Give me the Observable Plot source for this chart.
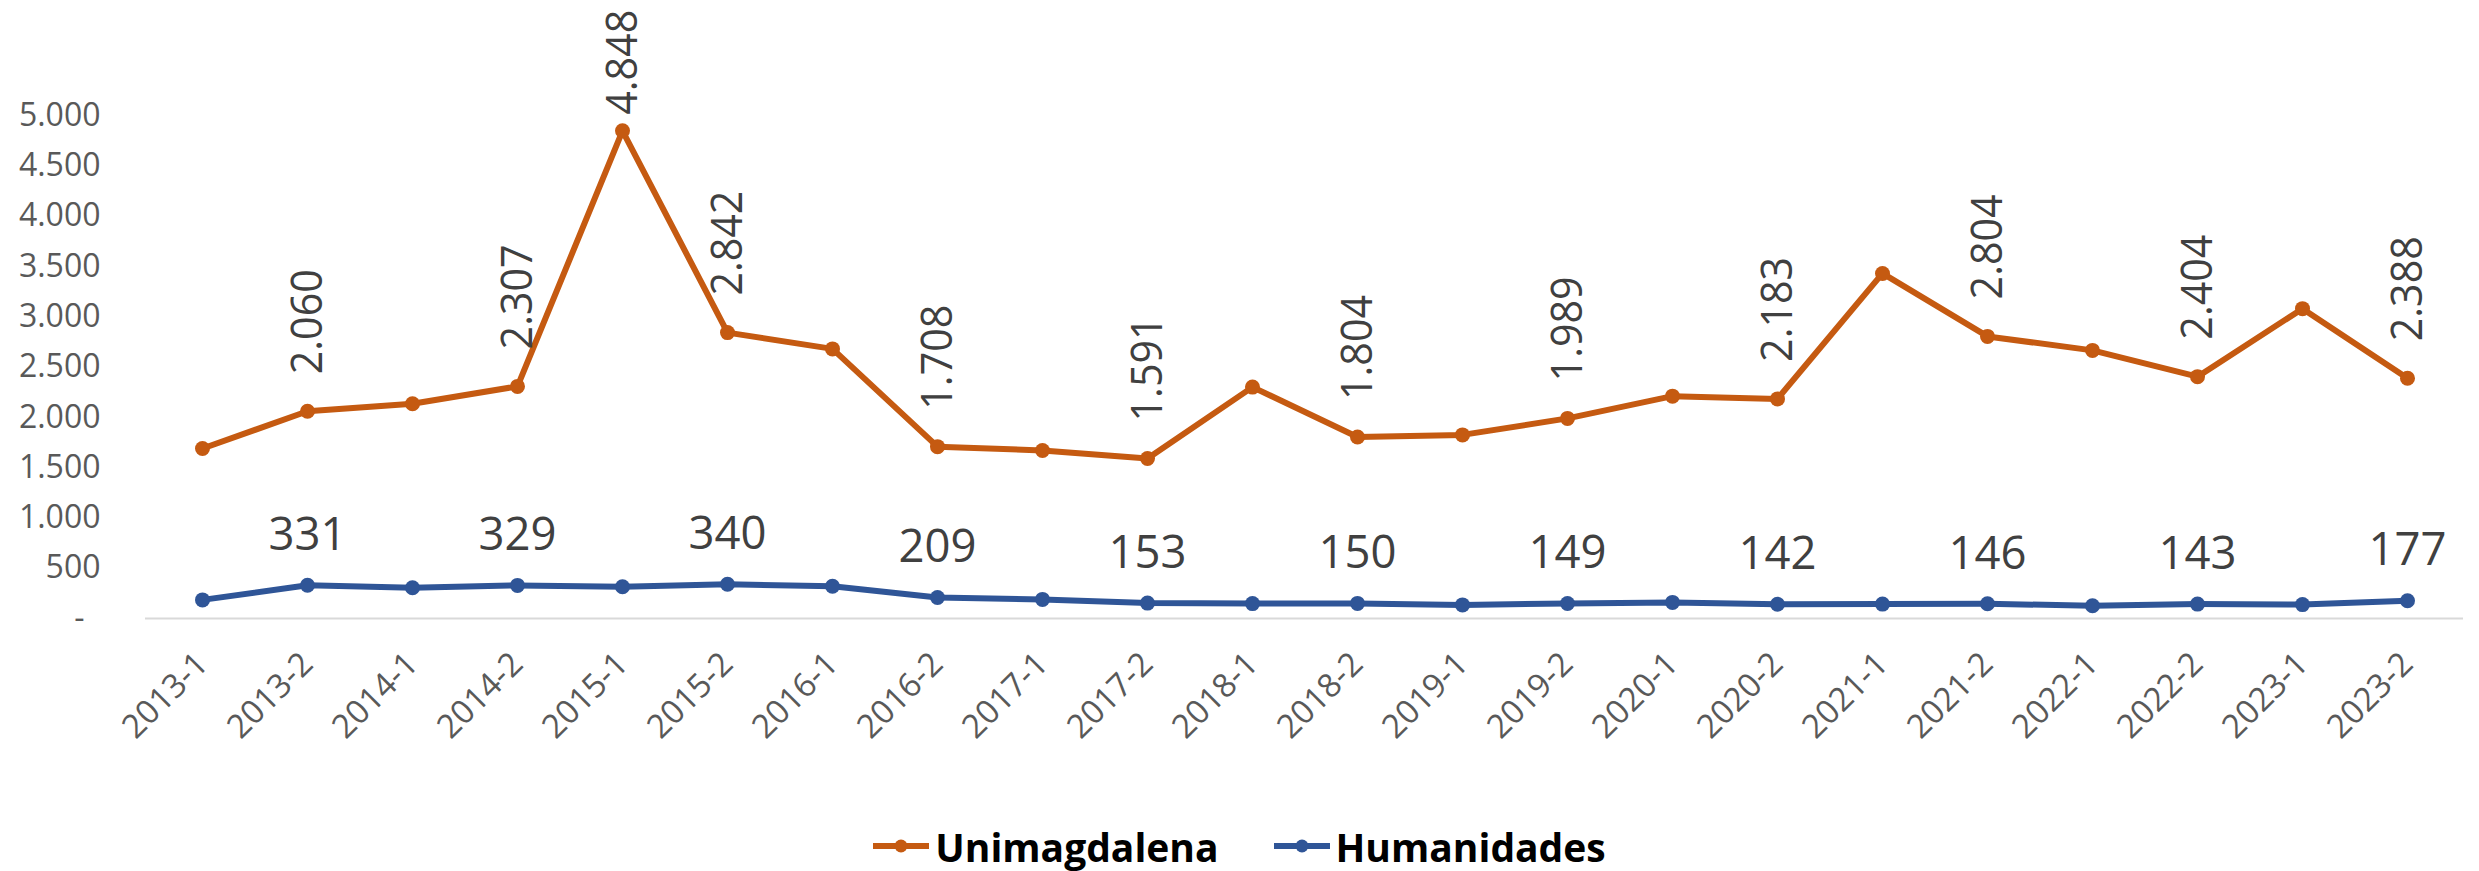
<!DOCTYPE html>
<html>
<head>
<meta charset="utf-8">
<script src="https://cdn.jsdelivr.net/npm/d3@7"></script>
<script src="https://cdn.jsdelivr.net/npm/@observablehq/plot@0.6"></script>
<style>
  html, body { margin: 0; padding: 0; background: #ffffff; width: 2479px; height: 871px; overflow: hidden; }
  #chart { height: 821px; }
  #legend { height: 50px; display: flex; justify-content: center; align-items: center;
            font-family: "Open Sans", sans-serif; font-weight: 700; font-size: 39px; color: #000; }
  .item { display: flex; align-items: center; }
  .item svg { margin-right: 6px; }
  .item + .item { margin-left: 55px; }
</style>
</head>
<body>
<div id="chart"></div>
<div id="legend"></div>
<script>
// ---- Data ----
const periods = ["2013-1","2013-2","2014-1","2014-2","2015-1","2015-2","2016-1","2016-2","2017-1","2017-2","2018-1","2018-2","2019-1","2019-2","2020-1","2020-2","2021-1","2021-2","2022-1","2022-2","2023-1","2023-2"];
const unimagdalena = [1690, 2060, 2135, 2307, 4848, 2842, 2680, 1708, 1670, 1591, 2300, 1804, 1825, 1989, 2210, 2183, 3430, 2804, 2665, 2404, 3080, 2388];
const humanidades = [185, 331, 305, 329, 315, 340, 320, 209, 190, 153, 148, 150, 135, 149, 160, 142, 143, 146, 127, 143, 138, 177];
const seriesNames = ["Unimagdalena", "Humanidades"];
const seriesColors = ["#C55A11", "#2F5597"];
const labeledUnimagdalena = ["2013-2","2014-2","2015-1","2015-2","2016-2","2017-2","2018-2","2019-2","2020-2","2021-2","2022-2","2023-2"];
const labeledHumanidades = ["2013-2","2014-2","2015-2","2016-2","2017-2","2018-2","2019-2","2020-2","2021-2","2022-2","2023-2"];
const yTicks = [0, 500, 1000, 1500, 2000, 2500, 3000, 3500, 4000, 4500, 5000];

// ---- Build table ----
const rows = [];
periods.forEach((p, i) => {
  rows.push({period: p, value: unimagdalena[i], series: seriesNames[0]});
  rows.push({period: p, value: humanidades[i], series: seriesNames[1]});
});
const locale = d3.formatLocale({decimal: ",", thousands: ".", grouping: [3], currency: ["", ""]});
const fmt = locale.format(",d");

const uniLab = rows.filter(d => d.series === seriesNames[0] && labeledUnimagdalena.includes(d.period));
const humLab = rows.filter(d => d.series === seriesNames[1] && labeledHumanidades.includes(d.period));
const yMax = d3.max(yTicks);

const plot = Plot.plot({
  width: 2479,
  height: 821,
  marginLeft: 145,
  marginRight: 16,
  marginTop: 115,
  marginBottom: 203,
  style: {fontFamily: "Open Sans", color: "#595959", background: "transparent", overflow: "visible"},
  x: {type: "point", domain: periods, padding: 0.5},
  y: {domain: [0, yMax]},
  color: {domain: seriesNames, range: seriesColors},
  marks: [
    Plot.axisY({ticks: yTicks, tickFormat: d => d === 0 ? "-\u2002" : fmt(d), tickSize: 0, tickPadding: 45, fontSize: 32, label: null}),
    Plot.axisX({tickRotate: -45, tickSize: 0, tickPadding: 40, fontSize: 33, label: null}),
    Plot.ruleY([0], {stroke: "#d9d9d9", strokeWidth: 2}),
    Plot.line(rows, {x: "period", y: "value", z: "series", stroke: "series", strokeWidth: 6}),
    Plot.dot(rows, {x: "period", y: "value", fill: "series", r: 7.5}),
    Plot.text(uniLab.filter(d => d.value < 4500), {x: "period", y: "value", text: d => fmt(d.value), rotate: -90, textAnchor: "start", lineAnchor: "middle", dy: -37, fontSize: 44, fill: "#404040", ariaDescription: "lab-uni"}),
    Plot.text(uniLab.filter(d => d.value >= 4500), {x: "period", y: "value", text: d => fmt(d.value), rotate: -90, textAnchor: "start", lineAnchor: "middle", dy: -16, fontSize: 44, fill: "#404040", ariaDescription: "lab-uni"}),
    Plot.text(humLab, {x: "period", y: "value", text: d => fmt(d.value), lineAnchor: "middle", dy: -50, fontSize: 46, fill: "#404040", ariaDescription: "lab-hum"})
  ]
});
document.getElementById("chart").appendChild(plot);

// fit label widths to the reference's narrow type
plot.querySelectorAll('g[aria-description="lab-uni"] text').forEach(t => {
  t.setAttribute("textLength", 105); t.setAttribute("lengthAdjust", "spacingAndGlyphs");
});
plot.querySelectorAll('g[aria-description="lab-hum"] text').forEach(t => {
  t.setAttribute("textLength", 78); t.setAttribute("lengthAdjust", "spacingAndGlyphs");
});

// ---- Legend ----
const legend = document.getElementById("legend");
seriesNames.forEach((name, i) => {
  const item = document.createElement("div");
  item.className = "item";
  item.innerHTML = `<svg width="56" height="16"><line x1="0" x2="56" y1="8" y2="8" stroke="${seriesColors[i]}" stroke-width="6"/><circle cx="28" cy="8" r="6.5" fill="${seriesColors[i]}"/></svg><span>${name}</span>`;
  legend.appendChild(item);
});
</script>
</body>
</html>
